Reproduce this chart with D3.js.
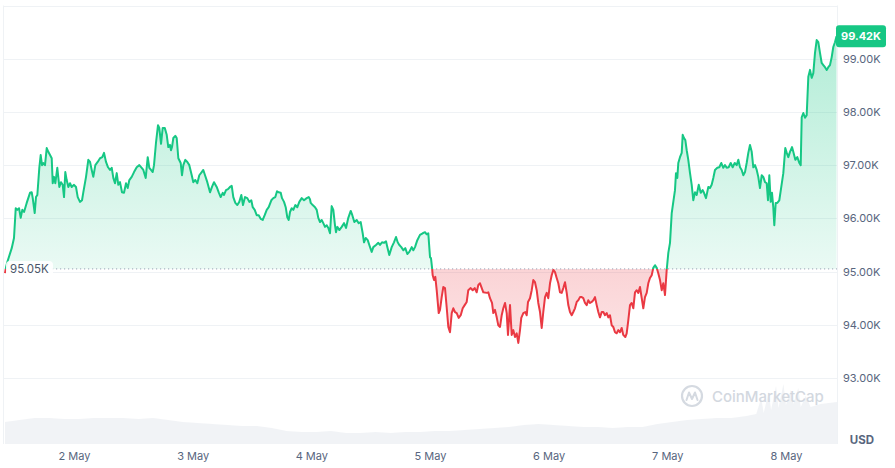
<!DOCTYPE html>
<html><head><meta charset="utf-8">
<script src="https://cdn.jsdelivr.net/npm/d3@7"></script>
<style>body{margin:0;background:#fff;} svg{display:block;font-family:Inter,"Noto Sans",sans-serif;}</style>
</head><body><svg id="c" width="895" height="468"></svg>
<script>
// [hours since 2 May 00:00, price in K USD]
const pricePoints = [
[-13.96,94.97],[-13.75,95.08],[-13.49,95.18],[-12.60,95.44],[-12.14,95.63],[-11.79,96.19],[-11.47,96.16],[-11.12,96.19],[-10.78,96.01],[-10.46,96.16],[-10.11,96.12],[-9.57,96.29],[-8.90,96.48],[-8.56,96.49],[-8.35,96.38],[-7.95,96.10],[-7.69,96.40],[-7.42,96.44],[-7.02,96.95],[-6.74,97.19],[-6.47,97.00],[-6.21,97.04],[-5.87,97.00],[-5.52,97.32],[-5.20,97.25],[-4.85,97.19],[-4.51,97.13],[-4.31,96.66],[-4.05,96.78],[-3.78,96.66],[-3.38,96.95],[-2.97,96.59],[-2.63,96.68],[-2.29,96.63],[-2.02,96.40],[-1.76,96.87],[-1.48,96.72],[-1.15,96.59],[-0.81,96.66],[-0.47,96.59],[0,96.63],[0.40,96.59],[0.75,96.40],[1.21,96.31],[1.62,96.34],[1.88,96.49],[2.43,96.78],[2.89,97.10],[3.24,97.06],[3.58,96.91],[3.90,96.78],[4.31,97.00],[4.79,97.06],[5.26,97.13],[5.72,97.15],[6.07,97.23],[6.47,97.06],[6.88,96.96],[7.28,96.91],[7.63,96.95],[7.95,96.76],[8.29,96.66],[8.64,96.85],[8.96,96.63],[9.30,96.68],[9.71,96.49],[10.11,96.48],[10.52,96.66],[10.86,96.57],[11.19,96.72],[11.67,96.78],[12.14,96.87],[12.68,96.96],[13.21,97.00],[13.69,96.95],[14.02,96.91],[14.50,96.76],[14.91,97.15],[15.23,96.95],[15.57,96.91],[15.92,96.87],[16.18,97.00],[16.59,97.43],[16.99,97.75],
[17.25,97.70],[17.60,97.40],[17.94,97.70],[18.35,97.70],[18.75,97.57],[19.07,97.34],[19.42,97.38],[19.62,97.28],[19.82,97.34],[20.09,97.51],[20.49,97.55],[20.77,97.51],[21.10,97.13],[21.58,97.04],[21.84,96.81],[22.11,97.00],[22.51,97.10],[22.92,97.06],[23.32,97.00],[23.81,96.81],[24.13,96.68],[24.53,96.72],[24.94,96.66],[25.34,96.81],[25.83,96.87],[26.15,96.91],[26.50,96.81],[26.96,96.68],[27.51,96.49],[27.91,96.59],[28.32,96.68],[28.86,96.59],[29.27,96.49],[29.67,96.40],[30.08,96.48],[30.34,96.44],[30.74,96.53],[31.15,96.55],[31.55,96.59],[31.90,96.61],[32.22,96.40],[32.63,96.29],[33.03,96.25],[33.43,96.31],[33.84,96.44],[34.18,96.25],[34.59,96.40],[35.05,96.38],[35.46,96.31],[35.86,96.34],[36.15,96.21],[36.55,96.16],[36.95,96.06],[37.36,96.06],[37.76,95.99],[38.17,95.97],[38.57,96.06],[38.98,96.16],[39.38,96.21],[39.91,96.34],[40.31,96.38],[40.72,96.40],[41.06,96.51],[41.40,96.49],[41.81,96.48],[42.07,96.38],[42.48,96.31],[42.82,96.21],[43.14,96.02],[43.43,95.97],[43.69,96.12],[44.03,96.19],[44.36,96.16],[44.76,96.25],[45.17,96.21],[45.57,96.31],[46.06,96.38],[46.52,96.34],[47.07,96.38],[47.47,96.40],[47.73,96.36],
[47.88,96.29],[48.28,96.25],[48.75,96.21],[49.09,96.16],[49.41,96.01],[49.76,95.93],[50.10,95.97],[50.42,95.91],[50.77,95.84],[51.11,95.87],[51.44,95.82],[51.78,95.72],[52.12,96.23],[52.45,96.16],[52.79,95.87],[52.99,95.74],[53.26,95.84],[53.66,95.78],[54.15,95.84],[54.61,95.91],[55.02,95.82],[55.48,96.01],[55.97,96.14],[56.29,96.06],[56.70,95.93],[57.18,95.97],[57.58,95.91],[57.99,95.93],[58.39,95.72],[58.66,95.55],[59.00,95.63],[59.41,95.59],[59.73,95.50],[60.21,95.37],[60.54,95.46],[61.08,95.50],[61.55,95.54],[61.89,95.50],[62.30,95.55],[62.70,95.54],[63.11,95.57],[63.37,95.46],[63.77,95.31],[64.26,95.46],[64.72,95.55],[65.13,95.65],[65.47,95.55],[65.80,95.50],[66.20,95.46],[66.61,95.40],[67.01,95.44],[67.42,95.33],[67.82,95.37],[68.31,95.46],[68.63,95.40],[68.97,95.46],[69.44,95.59],[69.98,95.69],[70.53,95.72],[71.00,95.74],[71.34,95.70],[71.66,95.72],[72.01,95.27],[72.21,95.25],[72.41,95.08],[72.55,94.93],[72.82,94.84],[73.08,94.90],[73.36,94.65],[73.77,94.22],[74.03,94.28],[74.37,94.52],[74.70,94.71],[75.04,94.69],[75.38,94.33],[75.71,93.96],[76.05,93.86],[76.40,94.22],[76.72,94.31],[77.06,94.24],[77.41,94.22],[77.81,94.13],[78.22,94.18],[78.62,94.31],[79.02,94.37],[79.43,94.43],[79.75,94.65],[80.24,94.69],[80.64,94.65],[81.05,94.69],[81.45,94.61],[81.78,94.75],
[82.12,94.78],[82.79,94.61],[83.48,94.60],[83.80,94.61],[84.14,94.50],[84.55,94.41],[84.81,94.22],[85.15,94.28],[85.50,94.14],[85.82,93.99],[86.17,93.96],[86.51,94.18],[86.83,94.31],[87.18,94.41],[87.52,94.22],[87.78,93.81],[88.19,94.37],[88.53,93.81],[88.86,93.90],[89.20,93.77],[89.54,93.84],[89.87,93.66],[90.21,93.90],[90.47,94.13],[90.88,94.22],[91.28,94.24],[91.57,94.18],[91.83,94.43],[92.23,94.50],[92.58,94.65],[92.90,94.84],[93.24,94.80],[93.59,94.65],[93.91,94.41],[94.26,94.24],[94.60,93.94],[94.92,94.24],[95.27,94.52],[95.61,94.60],[95.93,94.50],[96.28,94.78],[96.62,94.93],[96.95,95.03],[97.29,94.99],[97.63,94.88],[97.96,94.78],[98.30,94.61],[98.64,94.60],[98.97,94.69],[99.31,94.80],[99.66,94.60],[99.98,94.37],[100.32,94.24],[100.67,94.18],[100.99,94.24],[101.33,94.31],[101.68,94.43],[102.00,94.46],[102.35,94.52],[102.69,94.52],[103.01,94.50],[103.36,94.41],[103.70,94.37],[104.02,94.46],[104.37,94.41],[104.71,94.43],[105.04,94.46],[105.38,94.52],[105.72,94.37],[106.05,94.24],[106.39,94.14],[106.74,94.24],[107.06,94.24],[107.40,94.18],[107.75,94.22],[108.07,94.14],[108.41,94.18],[108.76,93.99],[109.08,93.96],[109.43,93.86],[109.77,93.84],[110.09,93.90],[110.44,93.86],[110.78,93.94],[111.10,93.81],[111.51,93.77],[111.79,93.84],[112.12,94.09],[112.46,94.37],[112.80,94.41],[113.13,94.31],[113.47,94.61],[113.82,94.65],[114.14,94.60],[114.48,94.71],[114.83,94.50],[115.15,94.31],[115.49,94.52],[115.84,94.60],[116.16,94.78],[116.50,94.88],[116.85,94.93],[117.17,95.07],[117.52,95.12],[117.86,95.07],[118.18,94.97],[118.53,94.84],[118.87,94.65],[119.20,94.78],[119.54,94.56],[119.88,95.03],
[120.21,95.35],[120.55,95.54],[120.90,96.10],[121.22,96.31],[121.56,96.53],[121.76,96.85],[122.03,96.76],[122.23,97.04],[122.57,97.15],[122.92,97.23],[123.12,97.57],[123.38,97.51],[123.65,97.47],[123.93,97.28],[124.25,97.10],[124.60,96.85],[124.94,96.63],[125.26,96.34],[125.61,96.49],[125.95,96.44],[126.36,96.63],[126.76,96.48],[127.16,96.53],[127.43,96.48],[127.83,96.38],[128.30,96.59],[128.64,96.57],[128.98,96.63],[129.31,96.76],[129.65,96.91],[130.12,96.95],[130.52,96.96],[130.93,97.04],[131.33,96.95],[131.67,97.00],[132.02,96.95],[132.42,96.96],[132.83,97.04],[133.23,96.96],[133.64,97.04],[134.04,97.00],[134.37,97.10],[134.71,96.96],[135.05,96.91],[135.38,96.81],[135.72,96.87],[136.06,97.04],[136.39,97.23],[136.73,97.38],[137.08,97.25],[137.40,96.96],[137.74,97.00],[138.09,96.91],[138.41,96.78],[138.75,96.57],[139.10,96.81],[139.42,96.78],[139.77,96.68],[140.11,96.66],[140.37,96.34],[140.64,96.81],[140.92,96.31],[141.18,96.48],[141.44,96.21],[141.65,95.87],[141.93,96.29],[142.25,96.29],[142.66,96.34],[143.06,96.59],[143.47,96.85],[143.87,97.32],[144.16,97.23],[144.48,97.15],[144.82,97.25],[145.23,97.34],[145.49,97.25],[145.90,97.10],[146.30,97.15],[146.71,97.04],[146.99,97.00],[147.19,97.90],[147.52,97.98],[147.86,97.89],[148.20,97.94],[148.53,98.66],[148.87,98.79],[149.21,98.64],[149.54,98.73],[149.88,99.11],[150.22,99.35],[150.55,99.31],[150.89,99.11],[151.23,98.92],[151.56,98.88],[151.90,98.84],[152.25,98.79],[152.57,98.84],[152.91,98.88],[153.26,99.03],[153.58,99.22],[153.92,99.31],[154.23,99.42]
];
// [hours since 2 May 00:00, volume in billions USD]
const volumePoints = [
[-13.96,1.10],[-11,1.20],[-8,1.30],[-5,1.30],[-2,1.25],[1,1.25],[4,1.30],[7,1.30],[10,1.30],[13,1.25],[16,1.30],[19,1.20],[22,1.10],[25,1.05],[28,1.00],[31,0.95],[34,0.90],[37,0.90],[40,0.80],[43,0.65],[46,0.60],[49,0.60],[52,0.65],[55,0.55],[58,0.55],[61,0.60],[64,0.55],[67,0.60],[70,0.60],[73,0.65],[76,0.65],[79,0.70],[82,0.75],[85,0.80],[88,0.85],[91,0.95],[94,1.00],[97,0.95],[100,0.90],[103,0.85],[106,0.85],[109,0.80],[112,0.85],[115,0.85],[118,1.00],[121,1.10],[124,1.20],[127,1.25],[130,1.30],[133,1.30],[136,1.40],[138,1.50],[139,2.30],[139.5,1.55],[140.5,2.60],[141,1.70],[142,2.90],[142.5,1.80],[143.5,3.00],[144,1.95],[145,2.70],[145.5,2.00],[146.5,2.80],[147,1.85],[148,2.40],[149,1.85],[151,2.00],[154.33,2.10]
];
const openPrice = 95.05;
const dayHours = [0,24,48,72,96,120,144];
const dayLabels = ["2 May","3 May","4 May","5 May","6 May","7 May","8 May"];
const yTickValues = [93,94,95,96,97,98,99];
const gridTop = 100;
const currencyLabel = "USD";
const watermarkText = "CoinMarketCap";

const GREEN = "#16c784", RED = "#ea3943", TXT = "#58667e", GRID = "#eff2f5";
const svg = d3.select("#c");
const x = d3.scaleLinear().domain([-13.96,154.33]).range([5,837]);
const y = d3.scaleLinear().domain([91.76,100]).range([444,5.5]);
const v = d3.scaleLinear().domain([0,3.5]).range([444,374]);
const by = y(openPrice);

const defs = svg.append("defs");
const gg = defs.append("linearGradient").attr("id","gG").attr("gradientUnits","userSpaceOnUse")
  .attr("x1",0).attr("x2",0).attr("y1",y(99.6)).attr("y2",by);
gg.append("stop").attr("offset",0).attr("stop-color",GREEN).attr("stop-opacity",0.34);
gg.append("stop").attr("offset",1).attr("stop-color",GREEN).attr("stop-opacity",0.09);
const rg = defs.append("linearGradient").attr("id","rG").attr("gradientUnits","userSpaceOnUse")
  .attr("x1",0).attr("x2",0).attr("y1",by).attr("y2",y(93.6));
rg.append("stop").attr("offset",0).attr("stop-color",RED).attr("stop-opacity",0.22);
rg.append("stop").attr("offset",1).attr("stop-color",RED).attr("stop-opacity",0.14);
defs.append("clipPath").attr("id","cUp").append("rect").attr("x",0).attr("y",0).attr("width",837).attr("height",by);
defs.append("clipPath").attr("id","cDn").append("rect").attr("x",0).attr("y",by).attr("width",837).attr("height",468-by);

// grid
svg.append("g").selectAll("line").data(yTickValues.concat([gridTop])).join("line")
  .attr("x1",3.5).attr("x2",837).attr("y1",d=>Math.round(y(d))+0.5).attr("y2",d=>Math.round(y(d))+0.5)
  .attr("stroke",GRID).attr("stroke-width",1);
svg.append("line").attr("x1",3.5).attr("x2",3.5).attr("y1",5.5).attr("y2",444).attr("stroke",GRID);
svg.append("line").attr("x1",837.5).attr("x2",837.5).attr("y1",5.5).attr("y2",444).attr("stroke",GRID);

// volume
svg.append("path").datum(volumePoints)
  .attr("d",d3.area().x(d=>x(d[0])).y0(444).y1(d=>v(d[1])))
  .attr("fill","#f0f2f5").attr("opacity",0.95);

// watermark
const wm = svg.append("g").attr("transform","translate(692,396)");
wm.append("circle").attr("r",10).attr("fill","none").attr("stroke","#d5dae1").attr("stroke-width",2.2);
wm.append("path").attr("d","M-5.5,4 L-3,-3.5 L0,3 L3,-3.5 L5.5,4").attr("fill","none").attr("stroke","#d5dae1").attr("stroke-width",2).attr("stroke-linejoin","round").attr("stroke-linecap","round");
svg.append("text").attr("x",712).attr("y",401.5).attr("font-size",15).attr("font-weight",500)
  .attr("fill","#d3d8df").text(watermarkText);

// areas
const area = d3.area().x(d=>x(d[0])).y0(by).y1(d=>y(d[1]));
svg.append("path").datum(pricePoints).attr("d",area).attr("fill","url(#gG)").attr("clip-path","url(#cUp)");
svg.append("path").datum(pricePoints).attr("d",area).attr("fill","url(#rG)").attr("clip-path","url(#cDn)");

// baseline
svg.append("line").attr("x1",52).attr("x2",837).attr("y1",by).attr("y2",by)
  .attr("stroke","#9aa3b5").attr("stroke-width",1).attr("stroke-dasharray","1.2,2.8");

// lines
const line = d3.line().x(d=>x(d[0])).y(d=>y(d[1]));
svg.append("path").datum(pricePoints).attr("d",line).attr("fill","none").attr("stroke",GREEN)
  .attr("stroke-width",2).attr("stroke-linejoin","round").attr("clip-path","url(#cUp)");
svg.append("path").datum(pricePoints).attr("d",line).attr("fill","none").attr("stroke",RED)
  .attr("stroke-width",2).attr("stroke-linejoin","round").attr("clip-path","url(#cDn)");

// baseline label
svg.append("rect").attr("x",6).attr("y",by-8).attr("width",47).attr("height",16).attr("rx",4).attr("fill","#fff").attr("opacity",0.9);
svg.append("text").attr("x",10).attr("y",by+4).attr("font-size",11.5).attr("fill","#4a5568").text(d3.format(".2f")(openPrice)+"K");

// y axis
const yAxis = d3.axisRight(y).tickValues(yTickValues).tickSize(0).tickPadding(0)
  .tickFormat(d=>d3.format(".2f")(d)+"K");
const ya = svg.append("g").attr("transform","translate(843,0)").call(yAxis);
ya.select(".domain").remove();
ya.selectAll("text").attr("font-size",11).attr("fill",TXT).attr("font-family","Inter,'Noto Sans',sans-serif");

// x axis
const xAxis = d3.axisBottom(x).tickValues(dayHours).tickSize(0).tickPadding(0).tickFormat((d,i)=>dayLabels[i]);
const xa = svg.append("g").attr("transform","translate(0,452)").call(xAxis);
xa.select(".domain").remove();
xa.selectAll("text").attr("font-size",11).attr("fill",TXT).attr("font-family","Inter,'Noto Sans',sans-serif");

svg.append("text").attr("x",862).attr("y",444).attr("text-anchor","middle").attr("font-size",11.5)
  .attr("font-weight",700).attr("fill",TXT).text(currencyLabel);

// current price tag
const last = pricePoints[pricePoints.length-1];
const ty = y(last[1]);
svg.append("rect").attr("x",836).attr("y",ty-11).attr("width",50).attr("height",22).attr("rx",3).attr("fill",GREEN);
svg.append("text").attr("x",861).attr("y",ty+4).attr("text-anchor","middle").attr("font-size",11)
  .attr("font-weight",700).attr("fill","#fff").text(d3.format(".2f")(last[1])+"K");
</script></body></html>
